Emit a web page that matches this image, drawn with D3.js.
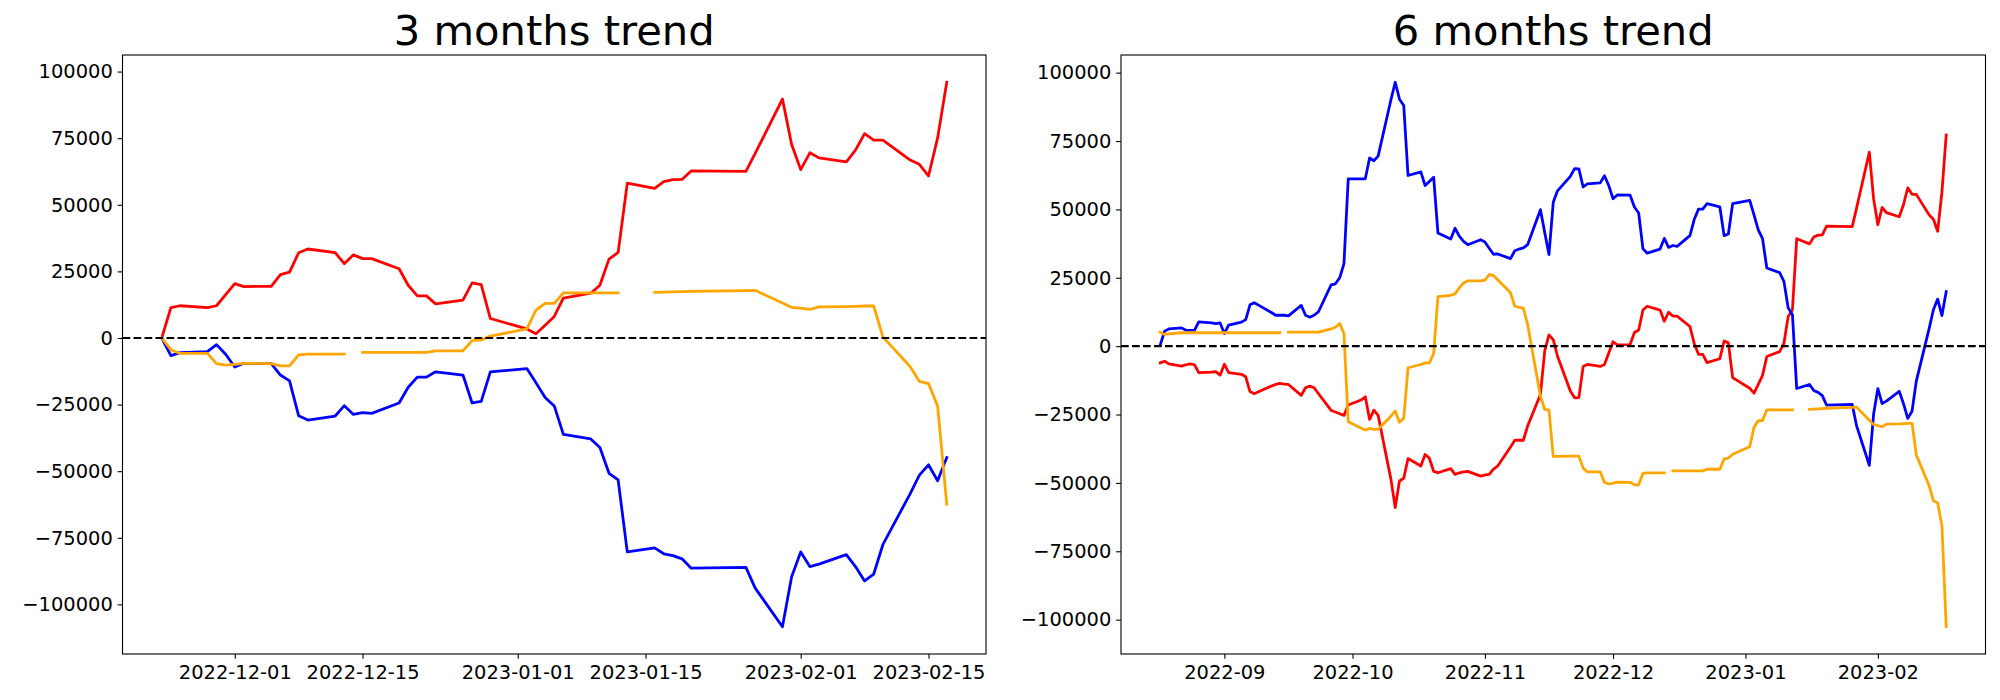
<!DOCTYPE html>
<html><head><meta charset="utf-8">
<script src="https://cdn.jsdelivr.net/npm/d3@7"></script>
<style>body{margin:0;background:#fff}svg{display:block}</style>
</head><body>
<svg id="chart" width="2000" height="700"></svg>
<script>
// ---------- 3 months data ----------
const dates3 = ["2022-11-23","2022-11-24","2022-11-25","2022-11-28","2022-11-29","2022-11-30",
"2022-12-01","2022-12-02","2022-12-05","2022-12-06","2022-12-07","2022-12-08","2022-12-09","2022-12-12","2022-12-13","2022-12-14","2022-12-15","2022-12-16","2022-12-19","2022-12-20","2022-12-21","2022-12-22","2022-12-23","2022-12-26","2022-12-27","2022-12-28","2022-12-29",
"2023-01-02","2023-01-03","2023-01-04","2023-01-05","2023-01-06","2023-01-09","2023-01-10","2023-01-11","2023-01-12","2023-01-13","2023-01-16","2023-01-17","2023-01-18","2023-01-19","2023-01-20","2023-01-26","2023-01-27","2023-01-30","2023-01-31",
"2023-02-01","2023-02-02","2023-02-03","2023-02-06","2023-02-07","2023-02-08","2023-02-09","2023-02-10","2023-02-13","2023-02-14","2023-02-15","2023-02-16","2023-02-17"];
const red3 = [0,11400,12100,11400,12100,16300,
20400,19300,19400,23800,24700,32000,33400,32000,27900,31200,29800,29800,26000,19800,15800,15800,12800,14200,20700,20000,7300,
3400,1600,4800,8100,15000,16800,19800,29600,32100,58100,56200,58700,59400,59500,62700,62500,69200,89700,72700,
63200,69500,67600,66100,70500,76700,74300,74300,66800,65200,60800,75100,96000];
const blue3 = [0,-6600,-5500,-5100,-2500,-6100,
-10900,-9500,-9600,-13900,-16100,-29200,-30800,-29300,-25400,-28700,-28000,-28300,-24400,-18500,-14700,-14700,-12700,-13900,-24400,-23800,-12700,
-11500,-16800,-22300,-25500,-36200,-37900,-41100,-50800,-53300,-80300,-78800,-81000,-81700,-82900,-86400,-86100,-93800,-108400,-89700,
-80300,-85800,-84900,-81300,-85800,-91200,-88600,-77600,-58400,-51500,-47600,-53600,-44900];
const orange3 = [0,-4400,-5800,-5800,-9600,-10200,
-9900,-9500,-9600,-10500,-10500,-6300,-6100,-6100,-6100,null,-5400,-5400,-5400,-5400,-5400,-5400,-4800,-4800,-1000,-700,700,
3400,10500,13000,13000,16900,16900,16900,16900,16900,null,17100,17200,17300,17400,17500,17800,17900,13100,11500,
11200,10700,11700,11800,11900,12000,12000,400,-10800,-16300,-17100,-25500,-62400];

// ---------- 6 months data ----------
const dates6 = ["2022-08-17","2022-08-18","2022-08-19","2022-08-22","2022-08-23","2022-08-24","2022-08-25","2022-08-26","2022-08-29","2022-08-30","2022-08-31",
"2022-09-01","2022-09-02","2022-09-05","2022-09-06","2022-09-07","2022-09-08","2022-09-09","2022-09-12","2022-09-13","2022-09-14","2022-09-15","2022-09-16","2022-09-19","2022-09-20","2022-09-21","2022-09-22","2022-09-23","2022-09-26","2022-09-27","2022-09-28","2022-09-29","2022-09-30",
"2022-10-03","2022-10-04","2022-10-05","2022-10-06","2022-10-07","2022-10-10","2022-10-11","2022-10-12","2022-10-13","2022-10-14","2022-10-17","2022-10-18","2022-10-19","2022-10-20","2022-10-21","2022-10-24","2022-10-25","2022-10-26","2022-10-27","2022-10-28","2022-10-31",
"2022-11-01","2022-11-02","2022-11-03","2022-11-04","2022-11-07","2022-11-08","2022-11-09","2022-11-10","2022-11-11","2022-11-14","2022-11-15","2022-11-16","2022-11-17","2022-11-18","2022-11-21","2022-11-22",
"2022-11-23","2022-11-24","2022-11-25","2022-11-28","2022-11-29","2022-11-30",
"2022-12-01","2022-12-02","2022-12-05","2022-12-06","2022-12-07","2022-12-08","2022-12-09","2022-12-12","2022-12-13","2022-12-14","2022-12-15","2022-12-16","2022-12-19","2022-12-20","2022-12-21","2022-12-22","2022-12-23","2022-12-26","2022-12-27","2022-12-28","2022-12-29",
"2023-01-02","2023-01-03","2023-01-04","2023-01-05","2023-01-06","2023-01-09","2023-01-10","2023-01-11","2023-01-12","2023-01-13","2023-01-16","2023-01-17","2023-01-18","2023-01-19","2023-01-20","2023-01-26","2023-01-27","2023-01-30","2023-01-31",
"2023-02-01","2023-02-02","2023-02-03","2023-02-06","2023-02-07","2023-02-08","2023-02-09","2023-02-10","2023-02-13","2023-02-14","2023-02-15","2023-02-16","2023-02-17"];
const red6 = [-6100,-5500,-6500,-7300,-6800,-6500,-6800,-9700,-9500,-9300,-10600,
-6600,-9700,-10300,-11200,-16600,-17400,-16700,-14600,-14000,-13600,-13900,-14000,-18000,-15200,-14600,-15200,-17300,-23500,-24100,-24700,-25300,-21500,
-19700,-18500,-26800,-23400,-25300,-48700,-59000,-49300,-48300,-41100,-43800,-39600,-41000,-45800,-46300,-44800,-46900,-46300,-46000,-45800,-47500,
-47100,-46900,-45000,-43800,-36900,-34400,-34400,-34400,-29200,-17700,-1800,4100,2400,-3700,-16400,-18900,
-18800,-7400,-6700,-7400,-6700,-2500,
1600,500,600,5000,5900,13200,14600,13200,9100,12400,11000,11000,7200,1000,-3000,-3000,-6000,-4600,1900,1200,-11500,
-15400,-17200,-14000,-10700,-3800,-2000,1000,10800,13300,39300,37400,39900,40600,40700,43900,43700,50400,70900,53900,
44400,50700,48800,47300,51700,57900,55500,55500,48000,46400,42000,56300,77200];
const blue6 = [500,5500,6300,6700,5800,5800,5800,8900,8500,8200,8500,
4600,7700,8800,9700,15100,15900,15000,12300,11300,11300,11300,11100,14900,11300,10600,11300,12500,22400,22800,25000,30200,61200,
61200,61200,68800,67800,69500,90100,96500,90300,88000,62400,63700,58700,60200,61800,41400,39200,43100,40200,38300,37100,38900,
38100,35800,33600,33700,32000,34900,35500,35900,37100,49900,41600,33500,52600,56800,62100,64900,
64800,58200,59300,59700,62300,58700,
53900,55300,55200,50900,48700,35600,34000,35500,39400,36100,36800,36500,40400,46300,50100,50100,52100,50900,40400,41000,52100,
53300,48000,42500,39300,28600,26900,23700,14000,11500,-15500,-14000,-16200,-16900,-18100,-21600,-21300,-29000,-43600,-24900,
-15500,-21000,-20100,-16500,-21000,-26400,-23800,-12800,6400,13300,17200,11200,19900];
const orange6 = [5100,4300,4500,4900,4900,4900,4900,4900,4900,4900,4900,
4900,4900,4900,4900,4900,4900,4900,4900,4900,4900,null,5100,5100,5100,5100,5100,5100,6300,6900,8300,4600,-27600,
-29900,-30700,-30100,-30400,-30400,-25600,-23700,-27800,-26400,-7900,-6700,-6100,-6100,-2700,18100,18600,19100,21300,23100,23900,23900,
24100,26200,25800,24300,19500,14600,14200,13900,7900,-18300,-23100,-23400,-40300,-40300,-40200,-40200,
-40200,-44600,-46000,-46000,-49800,-50400,
-50100,-49700,-49800,-50700,-50700,-46500,-46300,-46300,-46300,null,-45600,-45600,-45600,-45600,-45600,-45600,-45000,-45000,-41200,-40900,-39500,
-36800,-29700,-27200,-27200,-23300,-23300,-23300,-23300,-23300,null,-23100,-23000,-22900,-22800,-22700,-22400,-22300,-27100,-28700,
-29000,-29500,-28500,-28400,-28300,-28200,-28200,-39800,-51000,-56500,-57300,-65700,-102600];

// ---------- ticks / labels ----------
const yTickValues = [-100000,-75000,-50000,-25000,0,25000,50000,75000,100000];
const xTicks3 = ["2022-12-01","2022-12-15","2023-01-01","2023-01-15","2023-02-01","2023-02-15"];
const xTicks6 = ["2022-09-01","2022-10-01","2022-11-01","2022-12-01","2023-01-01","2023-02-01"];
const titles = ["3 months trend","6 months trend"];
const seriesColors = ["#ff0000","#0000ff","#ffa500"];

const FONT = "DejaVu Sans";
const parse = d3.utcParse("%Y-%m-%d");
const svg = d3.select("#chart");
svg.append("rect").attr("width",2000).attr("height",700).attr("fill","#fff");

function padExtent(ext, f) {
  const a = +ext[0], b = +ext[1], r = b - a;
  return [a - r*f, b + r*f];
}

function panel(box, title, dates, series, xTicks, xFmt) {
  const ds = dates.map(parse);
  const x = d3.scaleUtc().domain(padExtent(d3.extent(ds), 0.05).map(v => new Date(v))).range([box.x0, box.x1]);
  const all = series.flat().filter(v => v != null);
  const y = d3.scaleLinear().domain(padExtent(d3.extent(all), 0.05)).range([box.y1, box.y0]);
  const g = svg.append("g");

  const line = d3.line().defined(d => d.v != null).x(d => x(d.t)).y(d => y(d.v));
  series.forEach((vals, i) => {
    const pts = ds.map((t, k) => ({t, v: vals[k]}));
    g.append("path").attr("d", line(pts)).attr("fill","none")
      .attr("stroke", seriesColors[i]).attr("stroke-width", 2.78)
      .attr("stroke-linecap","square").attr("stroke-linejoin","round");
  });

  // zero line
  g.append("line").attr("x1", box.x0).attr("x2", box.x1)
    .attr("y1", y(0)).attr("y2", y(0))
    .attr("stroke","#000").attr("stroke-width",2.08).attr("stroke-dasharray","7.7,3.3");

  // axes
  const xa = g.append("g").attr("transform", `translate(0,${box.y1})`)
    .call(d3.axisBottom(x).tickValues(xTicks.map(parse)).tickFormat(xFmt).tickSize(4.86).tickPadding(6.8));
  const ya = g.append("g").attr("transform", `translate(${box.x0},0)`)
    .call(d3.axisLeft(y).tickValues(yTickValues).tickFormat(d3.format("d")).tickSize(4.86).tickPadding(4.86));
  [xa, ya].forEach(a => {
    a.select(".domain").remove();
    a.selectAll(".tick line").attr("stroke","#000").attr("stroke-width",1.1);
    a.selectAll(".tick text").attr("fill","#000").style("font-family", FONT).style("font-size","19.44px");
  });

  // frame
  g.append("rect").attr("x", box.x0).attr("y", box.y0)
    .attr("width", box.x1 - box.x0).attr("height", box.y1 - box.y0)
    .attr("fill","none").attr("stroke","#000").attr("stroke-width",1.1);

  // title
  g.append("text").attr("x", (box.x0 + box.x1)/2).attr("y", 45)
    .attr("text-anchor","middle").style("font-family", FONT).style("font-size","41.67px")
    .attr("fill","#000").text(title);
}

panel({x0:122.5, x1:986, y0:55, y1:654}, titles[0], dates3, [red3, blue3, orange3], xTicks3, d3.utcFormat("%Y-%m-%d"));
panel({x0:1121, x1:1985.5, y0:55, y1:654}, titles[1], dates6, [red6, blue6, orange6], xTicks6, d3.utcFormat("%Y-%m"));
</script>
</body></html>
